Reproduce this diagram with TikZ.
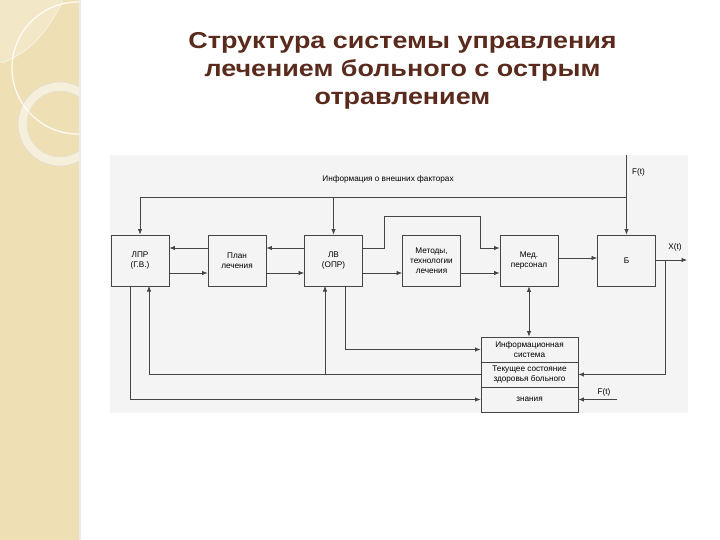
\documentclass[tikz,border=0pt]{standalone}
\usepackage{fontspec}
\setmainfont{Liberation Sans}
\usetikzlibrary{arrows.meta}
\definecolor{strip}{HTML}{EEDFB4}
\definecolor{stripl}{HTML}{F4EACB}
\definecolor{titlec}{HTML}{5A2A1C}
\definecolor{diagbg}{HTML}{F4F4F4}
\definecolor{linec}{HTML}{454545}
\tikzset{
  box/.style={draw=linec, line width=0.9pt, fill=diagbg, minimum width=58pt, minimum height=51pt,
    align=center, inner sep=1pt, font=\fontsize{8.2}{10}\selectfont},
  sect/.style={draw=linec, line width=0.9pt, fill=diagbg, minimum width=97pt, minimum height=25pt,
    align=center, inner sep=0pt, font=\fontsize{8.2}{9.8}\selectfont},
  conn/.style={draw=linec, line width=0.75pt},
  arr/.style={conn, -{Latex[length=5.5pt,width=4.5pt]}},
  darr/.style={conn, {Latex[length=5.5pt,width=4.5pt]}-{Latex[length=5.5pt,width=4.5pt]}},
  lbl/.style={font=\fontsize{8.2}{9.5}\selectfont, inner sep=0pt}
}
\begin{document}
\begin{tikzpicture}[x=1pt,y=-1pt]
\useasboundingbox (0,0) rectangle (720,540);
\fill[white] (0,0) rectangle (720,540);
% left decorative strip
\fill[strip] (0,0) rectangle (80,540);
\begin{scope}
\clip (0,0) rectangle (80,540);
\fill[stripl, opacity=0.8] (0,0) -- (63,0) .. controls (45,35) and (30,52) .. (2,63) -- (0,63) -- cycle;
\draw[white, opacity=0.85, line width=1.3pt] (78,68) circle (66pt);
\draw[white, opacity=0.6, line width=0.8pt] (63,1) .. controls (45,35) and (30,52) .. (2,63);
\fill[white, opacity=0.5, even odd rule] (60,124) circle (42pt) (60,124) circle (33pt);
\draw[black!15, line width=0.5pt] (60,124) circle (42pt);
\draw[black!12, line width=0.5pt] (60,124) circle (33pt);
\end{scope}
\fill[black!8] (79,0) rectangle (80.5,540);
% title
\node[font=\fontsize{23}{28}\selectfont\bfseries, text=titlec, inner sep=0pt] (title) at (402.5,71)
  {\scalebox{1.17}[1]{\begin{tabular}{@{}c@{}}Структура системы управления\\лечением больного с острым\\отравлением\end{tabular}}};
% diagram background
\fill[diagbg] (110,155) rectangle (688,413);
% boxes
\node[box] (lpr) at (140,260.5) {ЛПР\\(Г.В.)};
\node[box] (plan) at (237,260.5) {План\\лечения};
\node[box] (lv) at (333.5,260.5) {ЛВ\\(ОПР)};
\node[box] (met) at (431.5,260.5) {Методы,\\технологии\\лечения};
\node[box] (med) at (529,260.5) {Мед.\\персонал};
\node[box] (b) at (626.5,260.5) {Б};
\node[sect] (is1) at (529.5,349.5) {Информационная\\система};
\node[sect] (is2) at (529.5,374.5) {Текущее состояние\\здоровья больного};
\node[sect] (is3) at (529.5,399.5) {знания};
% coordinates
\coordinate (yU) at (0,248);
\coordinate (yL) at (0,273);
\coordinate (topL) at (140,197);
\coordinate (topR) at (626.5,197);
\coordinate (ftop) at (626.5,155);
\coordinate (xout) at (687,260);
\coordinate (xbr) at (665,260);
\coordinate (fbot) at (617,399.5);
% labels
\node[lbl] (info) at (388,179) {Информация о внешних факторах};
\node[lbl, anchor=west] (ft1) at (632,172) {F(t)};
\node[lbl] (xt) at (675,247) {X(t)};
\node[lbl] (ft2) at (604,392) {F(t)};
% top feedback
\draw[conn] (topL) -- (topR);
\draw[arr] (topL) -- (lpr.north);
\draw[arr] (lv.north |- topL) -- (lv.north);
\draw[arr] (ftop) -- (b.north);
% row connections
\draw[arr] (plan.west |- yU) -- (lpr.east |- yU);
\draw[arr] (lpr.east |- yL) -- (plan.west |- yL);
\draw[arr] (lv.west |- yU) -- (plan.east |- yU);
\draw[arr] (plan.east |- yL) -- (lv.west |- yL);
\draw[arr] (lv.east |- yL) -- (met.west |- yL);
\draw[arr] (met.east |- yL) -- (med.west |- yL);
\draw[arr] (lv.east |- yU) -- (384,248) -- (384,216.7) -- (480.7,216.7) -- (480.7,248) -- (med.west |- yU);
\draw[arr] (med.east |- 0,258) -- (b.west |- 0,258);
\draw[arr] (b.east |- xout) -- (xout);
\draw[arr] (xbr) |- (is2.east);
\draw[darr] (med.south) -- (is1.north -| med.south);
% lower feedback
\draw[arr] (345,286) |- (is1.west);
\draw[arr] (is2.west) -| (149,286);
\draw[arr] (325,374.5) -- (325,286);
\draw[arr] (130,286) |- (is3.west);
\draw[arr] (fbot) -- (is3.east);
\end{tikzpicture}
\end{document}
